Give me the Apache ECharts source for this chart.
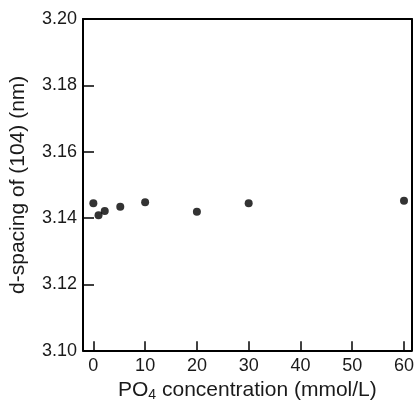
<!DOCTYPE html>
<html><head><meta charset="utf-8">
<script src="https://cdn.jsdelivr.net/npm/echarts@6/dist/echarts.min.js"></script>
<style>html,body{margin:0;padding:0;background:#fff}#c{width:417px;height:407px}</style>
</head><body><div id="c"></div>
<script>
const concentration = [0, 1, 2.2, 5.2, 10, 20, 30, 60];
const dSpacing = [3.1444, 3.1408, 3.1421, 3.1434, 3.1447, 3.1419, 3.1444, 3.1452];
const xTicks = [0, 10, 20, 30, 40, 50, 60];
const yTicks = [3.10, 3.12, 3.14, 3.16, 3.18, 3.20];
const yMin = 3.10, yMax = 3.20, xMin = -2, xMax = 61.5;
const tickLenData = 0.0028;

const chart = echarts.init(document.getElementById('c'), null, {renderer: 'canvas'});
const font = 'Liberation Sans, Arial, sans-serif';
const txt = '#1a1a1a';
chart.setOption({
  backgroundColor: '#fff',
  animation: false,
  grid: {left: 83, top: 19, right: 4, bottom: 56, show: false},
  xAxis: [{
    type: 'value', min: xMin, max: xMax,
    axisLine: {show: true, onZero: false, lineStyle: {color: '#000', width: 2}},
    axisTick: {show: false},
    axisLabel: {customValues: xTicks, color: txt, fontSize: 18, fontFamily: font, margin: 6},
    splitLine: {show: false},
    name: 'PO{sub|4} concentration (mmol/L)',
    nameLocation: 'middle', nameGap: 26,
    nameTextStyle: {color: txt, fontSize: 21, fontFamily: font,
      rich: {sub: {fontSize: 14, verticalAlign: 'bottom', padding: [10, 0, 0, 0], color: txt, fontFamily: font}}}
  }, {
    type: 'value', min: xMin, max: xMax, position: 'top',
    axisLine: {show: true, onZero: false, lineStyle: {color: '#000', width: 2}},
    axisTick: {show: false}, axisLabel: {show: false}, splitLine: {show: false}
  }],
  yAxis: [{
    type: 'value', min: yMin, max: yMax,
    axisLine: {show: true, onZero: false, lineStyle: {color: '#000', width: 2}},
    axisTick: {show: true, inside: true, length: 11, lineStyle: {color: '#000', width: 1.5},
      customValues: yTicks},
    axisLabel: {customValues: yTicks, color: txt, fontSize: 18, fontFamily: font, margin: 6,
      formatter: v => v.toFixed(2)},
    splitLine: {show: false},
    name: 'd-spacing of (104) (nm)',
    nameLocation: 'middle', nameGap: 54, nameRotate: 90,
    nameTextStyle: {color: txt, fontSize: 21, fontFamily: font}
  }, {
    type: 'value', min: yMin, max: yMax, position: 'right',
    axisLine: {show: true, onZero: false, lineStyle: {color: '#000', width: 2}},
    axisTick: {show: false}, axisLabel: {show: false}, splitLine: {show: false}
  }],
  series: [{
    type: 'scatter',
    data: concentration.map((x, i) => [x, dSpacing[i]]),
    symbol: 'circle', symbolSize: 8,
    itemStyle: {color: '#000'},
    markLine: {
      silent: true, symbol: ['none', 'none'], animation: false,
      label: {show: false},
      lineStyle: {color: '#000', width: 1.5, type: 'solid'},
      data: xTicks.map(x => [{coord: [x, yMin]}, {coord: [x, yMin + tickLenData]}])
    }
  }]
});
</script></body></html>
